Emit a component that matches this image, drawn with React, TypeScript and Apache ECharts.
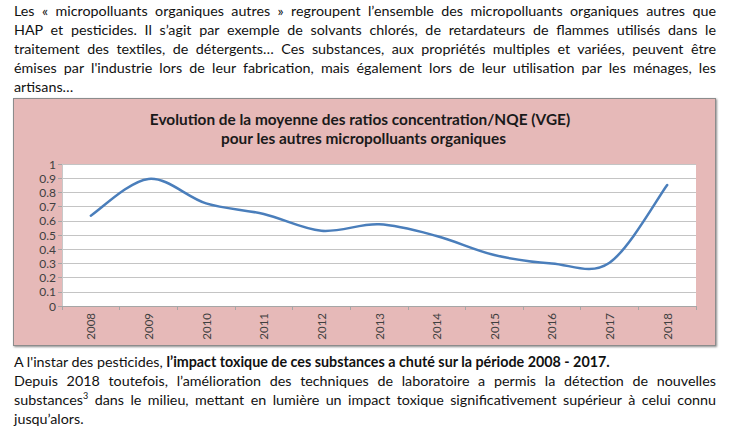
import React, { useEffect, useRef } from "react";
import * as echarts from "echarts";

const years = ["2008", "2009", "2010", "2011", "2012", "2013", "2014", "2015", "2016", "2017", "2018"];
const ratios = [0.636, 0.895, 0.723, 0.648, 0.53, 0.575, 0.493, 0.359, 0.3, 0.305, 0.852];
const titleLines = [
  "Evolution de la moyenne des ratios concentration/NQE (VGE)",
  "pour les autres micropolluants organiques",
];
const para1Lines = [
  "Les « micropolluants organiques autres » regroupent l’ensemble des micropolluants organiques autres que",
  "HAP et pesticides. Il s’agit par exemple de solvants chlorés, de retardateurs de flammes utilisés dans le",
  "traitement des textiles, de détergents… Ces substances, aux propriétés multiples et variées, peuvent être",
  "émises par l'industrie lors de leur fabrication, mais également lors de leur utilisation par les ménages, les",
  "artisans…",
];
const para2Start = "A l'instar des pesticides, ";
const para2Bold = "l’impact toxique de ces substances a chuté sur la période 2008 - 2017.";
const para2Line2 = "Depuis 2018 toutefois, l’amélioration des techniques de laboratoire a permis la détection de nouvelles";
const para2Line3a = "substances";
const para2Line3sup = "3";
const para2Line3b = " dans le milieu, mettant en lumière un impact toxique significativement supérieur à celui connu";
const para2Line4 = "jusqu’alors.";

const FONT = "Lato, 'Noto Sans', sans-serif";

const lineStyle = (justify: boolean): React.CSSProperties => ({
  height: 19,
  lineHeight: "19px",
  textAlign: justify ? "justify" : "left",
  textAlignLast: justify ? "justify" : "left",
  overflow: "visible",
});

// Excel-like smoothed line (Catmull-Rom style Bezier), positions from the axes via api.coord
function renderSmoothLine(params: any, api: any) {
  if (params.dataIndex !== 0) return { type: "group", children: [] };
  const pts = years.map((y, i) => api.coord([i, ratios[i]]));
  const t = 1 / 6;
  let d = `M${pts[0][0]},${pts[0][1]}`;
  for (let i = 0; i < pts.length - 1; i++) {
    const p0 = pts[Math.max(0, i - 1)];
    const p1 = pts[i];
    const p2 = pts[i + 1];
    const p3 = pts[Math.min(pts.length - 1, i + 2)];
    const c1x = p1[0] + (p2[0] - p0[0]) * t;
    const c1y = p1[1] + (p2[1] - p0[1]) * t;
    const c2x = p2[0] - (p3[0] - p1[0]) * t;
    const c2y = p2[1] - (p3[1] - p1[1]) * t;
    d += ` C${c1x},${c1y} ${c2x},${c2y} ${p2[0]},${p2[1]}`;
  }
  return {
    type: "path",
    shape: { pathData: d },
    style: { fill: "none", stroke: "#4a7ebb", lineWidth: 2.5, lineJoin: "round", lineCap: "round" },
  };
}

function Chart() {
  const ref = useRef<HTMLDivElement>(null);
  useEffect(() => {
    if (!ref.current) return;
    const chart = echarts.init(ref.current, undefined, { renderer: "svg" });
    const titleStyle = {
      fontFamily: FONT,
      fontSize: 15.4,
      fontWeight: "bold",
      fill: "#1a1a1a",
      textAlign: "center",
      textVerticalAlign: "middle",
    };
    chart.setOption({
      animation: false,
      backgroundColor: "#e6b9b8",
      graphic: [
        { type: "text", x: 346, y: 20, style: { ...titleStyle, text: titleLines[0] } },
        { type: "text", x: 349.5, y: 39, style: { ...titleStyle, text: titleLines[1] } },
      ],
      grid: {
        left: 48,
        right: 19,
        top: 65,
        bottom: 39,
        show: true,
        backgroundColor: "#ffffff",
        borderWidth: 0,
      },
      xAxis: {
        type: "category",
        data: years,
        boundaryGap: true,
        axisLine: { show: true, lineStyle: { color: "#a6a6a6", width: 1 } },
        axisTick: { show: true, length: 4, alignWithLabel: false, lineStyle: { color: "#a6a6a6" } },
        axisLabel: {
          rotate: 90,
          margin: 7,
          fontFamily: FONT,
          fontSize: 11.5,
          color: "#404040",
        },
        splitLine: { show: false },
      },
      yAxis: {
        type: "value",
        min: 0,
        max: 1,
        interval: 0.1,
        axisLine: { show: true, lineStyle: { color: "#c8c8c8", width: 1 } },
        axisTick: { show: true, length: 4, lineStyle: { color: "#a6a6a6" } },
        axisLabel: {
          margin: 6,
          fontFamily: FONT,
          fontSize: 12,
          color: "#404040",
        },
        splitLine: { show: true, lineStyle: { color: "#c4c4c4", width: 1 } },
      },
      series: [
        {
          type: "custom",
          data: ratios.map((v, i) => [i, v]),
          encode: { x: 0, y: 1 },
          renderItem: renderSmoothLine,
          clip: false,
        },
      ],
    });
    return () => chart.dispose();
  }, []);
  return (
    <div
      ref={ref}
      style={{
        position: "absolute",
        left: 13,
        top: 98,
        width: 703,
        height: 248,
        boxSizing: "border-box",
        border: "1px solid #8c8c8c",
        boxShadow: "1px 1px 2px rgba(0,0,0,0.45)",
      }}
    />
  );
}

export default function App() {
  const textBlock: React.CSSProperties = {
    position: "absolute",
    left: 14,
    width: 702,
    fontFamily: FONT,
    fontSize: 14.3,
    color: "#111111",
  };
  return (
    <div
      style={{
        position: "absolute",
        left: 0,
        top: 0,
        width: 730,
        height: 430,
        background: "#ffffff",
        overflow: "hidden",
      }}
    >
      <div style={{ ...textBlock, top: 0.5 }}>
        {para1Lines.map((l, i) => (
          <div key={i} style={lineStyle(i < para1Lines.length - 1)}>
            {l}
          </div>
        ))}
      </div>
      <Chart />
      <div style={{ ...textBlock, top: 352 }}>
        <div style={lineStyle(false)}>
          {para2Start}
          <b>{para2Bold}</b>
        </div>
        <div style={lineStyle(true)}>{para2Line2}</div>
        <div style={lineStyle(true)}>
          {para2Line3a}
          <sup style={{ fontSize: 9, lineHeight: 0 }}>{para2Line3sup}</sup>
          {para2Line3b}
        </div>
        <div style={lineStyle(false)}>{para2Line4}</div>
      </div>
    </div>
  );
}
